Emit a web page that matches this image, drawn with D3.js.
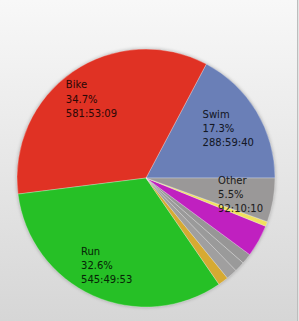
<!DOCTYPE html>
<html>
<head>
<meta charset="utf-8">
<script src="https://cdn.jsdelivr.net/npm/d3@7"></script>
<style>
  html, body { margin: 0; padding: 0; }
  body { width: 299px; height: 321px; overflow: hidden; }
</style>
</head>
<body>
<div id="chart"></div>
<script>
// Training time per sport (h:mm:ss), slices run counter-clockwise from 3 o'clock
const sports = ['Swim', 'Bike', 'Run', 'Brick', 'Walk', 'Hike', 'Row', 'Strength', 'Yoga', 'Other'];
const durations = ['288:59:40', '581:53:09', '545:49:53', '21:47:10', '23:26:30', '21:46:20', '21:48:05', '67:22:15', '10:03:40', '92:10:10'];
const colors = ['#6a7fb7', '#e03224', '#26c026', '#d6aa32', '#a09f9f', '#9a9a9a', '#979696', '#c020c0', '#f0e060', '#9a9898'];

const width = 299;
const height = 321;
const cx = 146;
const cy = 178;
const radius = 129;

const toSeconds = (s) => s.split(':').reduce((acc, v) => acc * 60 + (+v), 0);

const data = sports.map((name, i) => ({
  name: name,
  time: durations[i],
  value: toSeconds(durations[i]),
  color: colors[i]
}));
const total = d3.sum(data, (d) => d.value);

const svg = d3.select('#chart').append('svg')
  .attr('width', width)
  .attr('height', height);

// background gradient
const defs = svg.append('defs');
const grad = defs.append('linearGradient')
  .attr('id', 'bg')
  .attr('x1', 0).attr('y1', 0).attr('x2', 0).attr('y2', 1);
grad.append('stop').attr('offset', '0%').attr('stop-color', '#f8f8f8');
grad.append('stop').attr('offset', '100%').attr('stop-color', '#d6d6d6');

const blur = defs.append('filter').attr('id', 'shadow')
  .attr('x', '-10%').attr('y', '-10%').attr('width', '120%').attr('height', '120%');
blur.append('feGaussianBlur').attr('stdDeviation', 1.5);

svg.append('rect')
  .attr('width', width)
  .attr('height', height)
  .attr('fill', 'url(#bg)');

// right frame edge
svg.append('rect')
  .attr('x', 298)
  .attr('width', 1)
  .attr('height', height)
  .attr('fill', '#e4e4e4');
svg.append('line')
  .attr('x1', 297.5).attr('x2', 297.5)
  .attr('y1', 0).attr('y2', height)
  .attr('stroke', '#bdbdbd');

const g = svg.append('g')
  .attr('transform', 'translate(' + cx + ',' + cy + ')');

// soft rim under the pie
g.append('circle')
  .attr('r', radius + 1)
  .attr('fill', 'rgba(0,0,0,0.18)')
  .attr('filter', 'url(#shadow)');

const pie = d3.pie()
  .sort(null)
  .value((d) => d.value)
  .startAngle(Math.PI / 2)
  .endAngle(Math.PI / 2 - 2 * Math.PI);

const arc = d3.arc().innerRadius(0).outerRadius(radius);
const labelArc = d3.arc().innerRadius(96).outerRadius(96);

const arcs = pie(data);

g.selectAll('path.slice')
  .data(arcs)
  .enter()
  .append('path')
  .attr('class', 'slice')
  .attr('d', arc)
  .attr('fill', (d) => d.data.color)
  .attr('stroke', 'rgba(255,255,255,0.35)')
  .attr('stroke-width', 0.8);

// labels only for the larger slices
const lineGap = 14.2;
const labels = g.selectAll('g.label')
  .data(arcs.filter((d) => d.data.value / total > 0.05))
  .enter()
  .append('g')
  .attr('class', 'label');

labels.each(function (d) {
  const grp = d3.select(this);
  const [lx, ly] = labelArc.centroid(d);
  const lines = [d.data.name, (d.data.value / total * 100).toFixed(1) + '%', d.data.time];
  const texts = grp.selectAll('text')
    .data(lines)
    .enter()
    .append('text')
    .attr('y', (t, i) => ly + (i - 1) * lineGap)
    .attr('dominant-baseline', 'central')
    .style('font-family', '"DejaVu Sans", Verdana, sans-serif')
    .style('font-size', '10px')
    .style('fill', '#000')
    .style('fill-opacity', 0.8)
    .style('stroke', '#000')
    .style('stroke-opacity', 0.25)
    .style('stroke-width', 0.3)
    .text((t) => t);
  let w = 0;
  texts.each(function () { w = Math.max(w, this.getComputedTextLength()); });
  texts.attr('x', lx - w / 2);
});
</script>
</body>
</html>
